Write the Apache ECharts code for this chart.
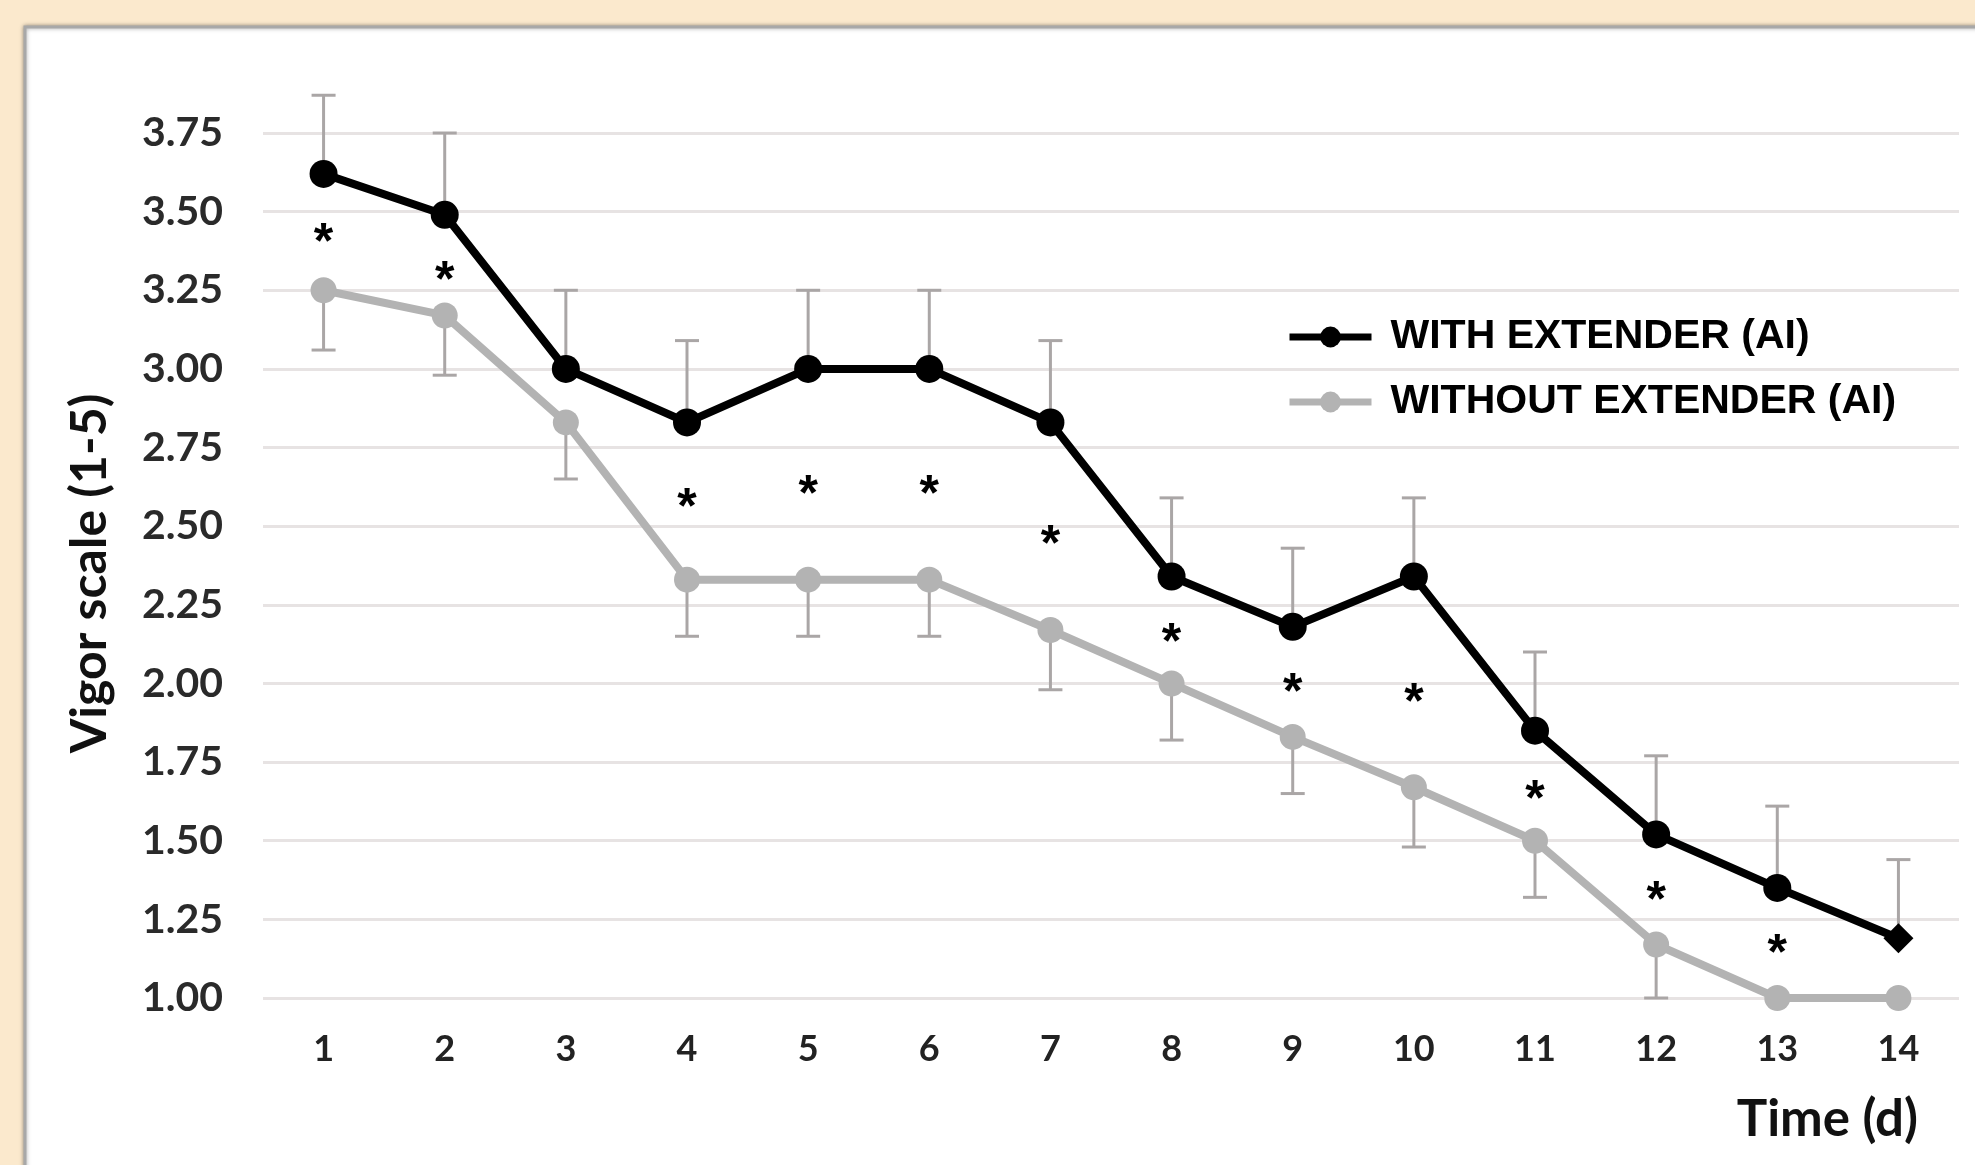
<!DOCTYPE html>
<html>
<head>
<meta charset="utf-8">
<script src="https://cdn.jsdelivr.net/npm/echarts@6/dist/echarts.min.js"></script>
<style>
  html, body { margin: 0; padding: 0; background: #fbe9cd; }
  #chart { width: 1975px; height: 1165px; }
</style>
</head>
<body>
<div id="chart"></div>
<script>
// data
const days = ['1', '2', '3', '4', '5', '6', '7', '8', '9', '10', '11', '12', '13', '14'];
const withExtender = [3.62, 3.49, 3.0, 2.83, 3.0, 3.0, 2.83, 2.34, 2.18, 2.34, 1.85, 1.52, 1.35, 1.19];
const withUpper = [3.87, 3.75, 3.25, 3.09, 3.25, 3.25, 3.09, 2.59, 2.43, 2.59, 2.10, 1.77, 1.61, 1.44];
const withoutExtender = [3.25, 3.17, 2.83, 2.33, 2.33, 2.33, 2.17, 2.0, 1.83, 1.67, 1.5, 1.17, 1.0, 1.0];
const withoutLower = [3.06, 2.98, 2.65, 2.15, 2.15, 2.15, 1.98, 1.82, 1.65, 1.48, 1.32, 1.0, 1.0, 1.0];
const starY = [3.43, 3.31, null, 2.59, 2.63, 2.63, 2.47, 2.16, 2.0, 1.97, 1.66, 1.34, 1.17, null];

const chart = echarts.init(document.getElementById('chart'));

const errorData = (base, other) => base.map((v, i) => [i, Math.min(v, other[i]), Math.max(v, other[i])]);

const renderError = (params, api) => {
  const lo = api.coord([api.value(0), api.value(1)]);
  const hi = api.coord([api.value(0), api.value(2)]);
  if (Math.abs(hi[1] - lo[1]) < 1) return null;
  const capHalf = 12;
  const style = { stroke: '#aaa6a6', lineWidth: 3 };
  // cap only on the outer end
  const capY = params.seriesName === 'errWith' ? hi[1] : lo[1];
  return {
    type: 'group',
    children: [
      { type: 'line', shape: { x1: lo[0], y1: lo[1], x2: hi[0], y2: hi[1] }, style: style },
      { type: 'line', shape: { x1: lo[0] - capHalf, y1: capY, x2: lo[0] + capHalf, y2: capY }, style: style }
    ]
  };
};

const option = {
  backgroundColor: '#fbe9cd',
  animation: false,
  graphic: [
    {
      type: 'rect',
      z: -10,
      shape: { x: 25, y: 27, width: 2000, height: 1200 },
      style: {
        fill: '#ffffff',
        stroke: '#a8a8a8',
        lineWidth: 3,
        shadowBlur: 4,
        shadowColor: 'rgba(0,0,0,0.35)'
      }
    },
    {
      type: 'text',
      right: 57,
      top: 1094,
      style: {
        text: 'Time (d)',
        font: 'bold 51px Lato',
        fill: '#111'
      }
    }
  ],
  grid: { left: 263, right: 16, top: 133, bottom: 167 },
  legend: {
    orient: 'vertical',
    left: 1281,
    top: 309,
    itemWidth: 82,
    itemHeight: 26,
    itemGap: 19,
    data: ['WITH EXTENDER (AI)', 'WITHOUT EXTENDER (AI)'],
    lineStyle: { width: 7 },
    textStyle: {
      fontFamily: 'Liberation Sans',
      fontWeight: 'bold',
      fontSize: 41,
      lineHeight: 46,
      color: '#000',
      padding: [0, 0, 0, 14]
    }
  },
  xAxis: {
    type: 'category',
    data: days,
    boundaryGap: true,
    axisLine: { show: false },
    axisTick: { show: false },
    axisLabel: {
      margin: 33,
      fontFamily: 'Lato',
      fontWeight: 'bold',
      fontSize: 36,
      color: '#222'
    }
  },
  yAxis: {
    type: 'value',
    min: 1,
    max: 3.75,
    interval: 0.25,
    name: 'Vigor scale (1-5)',
    nameLocation: 'middle',
    nameGap: 148,
    nameRotate: 90,
    nameTextStyle: {
      fontFamily: 'Lato',
      fontWeight: 'bold',
      fontSize: 50,
      color: '#111',
      padding: [0, 16, 0, 0]
    },
    axisLine: { show: false },
    axisTick: { show: false },
    splitLine: { lineStyle: { color: '#e7e3e3', width: 3 } },
    axisLabel: {
      margin: 40,
      fontFamily: 'Lato',
      fontWeight: 'bold',
      fontSize: 41,
      color: '#2a2a2a',
      formatter: v => v.toFixed(2)
    }
  },
  series: [
    {
      name: 'errWith',
      type: 'custom',
      renderItem: renderError,
      data: errorData(withExtender, withUpper),
      clip: false,
      z: 1
    },
    {
      name: 'errWithout',
      type: 'custom',
      renderItem: renderError,
      data: errorData(withoutExtender, withoutLower),
      clip: false,
      z: 1
    },
    {
      name: 'WITHOUT EXTENDER (AI)',
      type: 'line',
      data: withoutExtender,
      symbol: 'circle',
      symbolSize: 26,
      lineStyle: { color: '#b3b3b3', width: 8 },
      itemStyle: { color: '#b3b3b3' },
      z: 3
    },
    {
      name: 'WITH EXTENDER (AI)',
      type: 'line',
      data: withExtender.map((v, i) => i === withExtender.length - 1 ? { value: v, symbol: 'diamond', symbolSize: 30 } : v),
      symbol: 'circle',
      symbolSize: 28,
      lineStyle: { color: '#000', width: 8 },
      itemStyle: { color: '#000' },
      z: 4
    },
    {
      name: 'stars',
      type: 'custom',
      data: starY.map((v, i) => [i, v]).filter(d => d[1] !== null),
      renderItem: (params, api) => {
        const p = api.coord([api.value(0), api.value(1)]);
        return {
          type: 'text',
          style: {
            text: '*',
            x: p[0],
            y: p[1] + 11,
            align: 'center',
            verticalAlign: 'middle',
            font: 'bold 50px "Liberation Sans"',
            fill: '#000'
          }
        };
      },
      z: 5
    }
  ]
};

chart.setOption(option);
</script>
</body>
</html>
